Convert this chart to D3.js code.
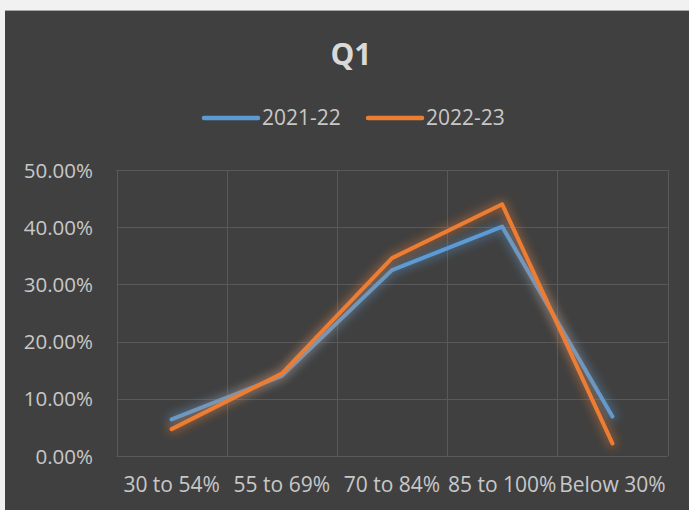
<!DOCTYPE html>
<html><head><meta charset="utf-8">
<script src="https://cdn.jsdelivr.net/npm/d3@7"></script>
<style>html,body{margin:0;padding:0;background:#f0f0f0;overflow:hidden}</style>
</head><body>
<svg id="c" width="689" height="510"></svg>
<script>
const title = "Q1";
const categories = ["30 to 54%", "55 to 69%", "70 to 84%", "85 to 100%", "Below 30%"];
const seriesNames = ["2021-22", "2022-23"];
const values2021 = [0.064, 0.140, 0.325, 0.401, 0.069];
const values2022 = [0.047, 0.144, 0.346, 0.440, 0.022];
const yTicks = [0, 0.1, 0.2, 0.3, 0.4, 0.5];
const colors = ["#5b9bd5", "#ed7d31"];

(function(){
const svg = d3.select("#c");
const W = 689, H = 510;
svg.append("rect").attr("x",0).attr("y",0).attr("width",W).attr("height",H).attr("fill","#f1f1f1");
svg.append("rect").attr("x",5).attr("y",10).attr("width",W-5).attr("height",H-10).attr("fill","#404040");
svg.append("line").attr("x1",5).attr("x2",W).attr("y1",10.5).attr("y2",10.5).attr("stroke","#a6a6a6").attr("stroke-width",1);

const defs = svg.append("defs");
colors.forEach((c,i)=>{
  const f = defs.append("filter").attr("id","glow"+i).attr("x","-20%").attr("y","-20%").attr("width","140%").attr("height","140%");
  f.append("feMorphology").attr("in","SourceGraphic").attr("operator","dilate").attr("radius",2).attr("result","d");
  f.append("feGaussianBlur").attr("in","d").attr("stdDeviation",5).attr("result","b");
  f.append("feComponentTransfer").attr("in","b").attr("result","bo")
    .append("feFuncA").attr("type","linear").attr("slope",0.4);
  const m = f.append("feMerge");
  m.append("feMergeNode").attr("in","bo");
  m.append("feMergeNode").attr("in","SourceGraphic");
});

const pL = 116.5, pR = 667.5, pT = 170, pB = 456;
const x = d3.scaleBand().domain(categories).range([pL, pR]);
const y = d3.scaleLinear().domain([0, 0.5]).range([pB, pT]);

const font = "'Open Sans', sans-serif";
const g = svg.append("g");
g.selectAll("line.h").data(yTicks).join("line").attr("class","h")
  .attr("x1",pL).attr("x2",pR).attr("y1",d=>Math.round(y(d))+0.5).attr("y2",d=>Math.round(y(d))+0.5)
  .attr("stroke","#595959").attr("stroke-width",1);
const vb = categories.map(c=>x(c)).concat([pR]);
g.selectAll("line.v").data(vb).join("line").attr("class","v")
  .attr("x1",d=>Math.round(d)+0.5).attr("x2",d=>Math.round(d)+0.5).attr("y1",pT).attr("y2",pB)
  .attr("stroke","#595959").attr("stroke-width",1);

const yAxis = d3.axisLeft(y).tickValues(yTicks).tickFormat(d=>(d*100).toFixed(2)+"%").tickSize(0).tickPadding(0);
const ya = svg.append("g").attr("transform",`translate(93,0)`).call(yAxis);
ya.select(".domain").remove();
ya.selectAll("text").attr("fill","#c8c8c8").attr("font-family",font).attr("font-size",20.5).attr("dy","0.35em");

const xAxis = d3.axisBottom(x).tickSize(0).tickPadding(0);
const xa = svg.append("g").attr("transform",`translate(0,485)`).call(xAxis);
xa.select(".domain").remove();
xa.selectAll("text").attr("fill","#c8c8c8").attr("font-family",font).attr("font-size",21).attr("dy","0.35em").attr("y",0);

const line = d3.line().x((d,i)=>x(categories[i])+x.bandwidth()/2).y(d=>y(d));
[values2021, values2022].forEach((vals,i)=>{
  svg.append("path").datum(vals).attr("d",line).attr("fill","none")
    .attr("stroke",colors[i]).attr("stroke-width",4).attr("stroke-linecap","round").attr("stroke-linejoin","round")
    .attr("filter",`url(#glow${i})`);
});

svg.append("text").attr("x",351).attr("y",65).attr("text-anchor","middle")
  .attr("fill","#d9d9d9").attr("font-family",font).attr("font-weight","bold").attr("font-size",30).text(title);

const legX = [204, 368];
seriesNames.forEach((n,i)=>{
  const lg = svg.append("g");
  lg.append("line").attr("x1",legX[i]).attr("x2",legX[i]+54).attr("y1",118).attr("y2",118)
    .attr("stroke",colors[i]).attr("stroke-width",4.5).attr("stroke-linecap","round");
  lg.append("text").attr("x",legX[i]+58).attr("y",118).attr("dy","0.35em")
    .attr("fill","#c8c8c8").attr("font-family",font).attr("font-size",21).text(n);
});
})();
</script>
</body></html>
